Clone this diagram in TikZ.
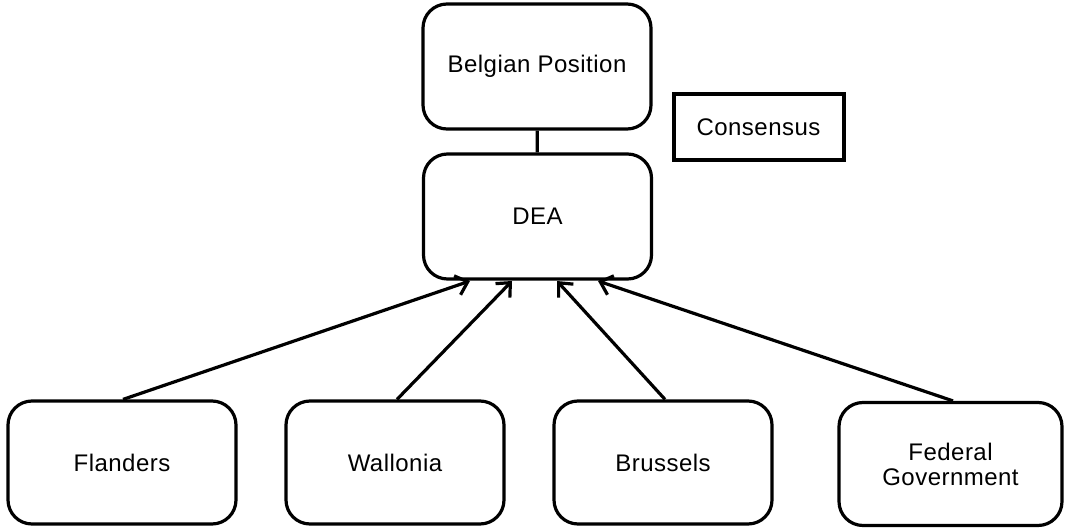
\documentclass[tikz,border=0pt]{standalone}
\usepackage{fontspec}
\setmainfont[LetterSpace=2]{Liberation Sans}
\usetikzlibrary{arrows.meta}
\begin{document}
\begin{tikzpicture}[x=1pt,y=-1pt,
  box/.style={draw=black,line width=3.2pt,rounded corners=24pt,fill=white,
    align=center,font=\fontsize{24}{25}\selectfont,inner sep=0pt},
  plainbox/.style={draw=black,line width=4pt,fill=white,
    font=\fontsize{24}{25}\selectfont,inner sep=0pt},
  link/.style={line width=3.2pt},
  arr/.style={line width=3.2pt,-{Straight Barb[length=11pt,width=20pt,line width=3.2pt]}}]
\useasboundingbox (0,0) rectangle (1067,529);
% upper boxes
\node[box,minimum width=228pt,minimum height=125pt] (bp) at (537,66.5) {Belgian Position};
\node[box,minimum width=228pt,minimum height=125pt] (dea) at (537.5,216.5) {DEA};
\node[plainbox,minimum width=170pt,minimum height=66pt] (cons) at (758.5,127.5) {Consensus};
% regional boxes
\node[box,minimum width=228pt,minimum height=123pt] (fl) at (122,462.5) {Flanders};
\node[box,minimum width=218pt,minimum height=123pt] (wa) at (395,462.5) {Wallonia};
\node[box,minimum width=218pt,minimum height=123pt] (br) at (663,462.5) {Brussels};
\node[box,minimum width=223pt,minimum height=123pt] (fg) at (950.5,464) {Federal\\Government};
% connectors
\draw[link] (bp) -- (dea);
\coordinate (t1) at (470,281);
\coordinate (t2) at (512,281);
\coordinate (t3) at (557,281);
\coordinate (t4) at (598,281);
\draw[arr] (fl.north -| 123,0) -- (t1);
\draw[arr] (wa.north -| 397,0) -- (t2);
\draw[arr] (br.north -| 665,0) -- (t3);
\draw[arr] (fg.north -| 953,0) -- (t4);
\end{tikzpicture}
\end{document}
